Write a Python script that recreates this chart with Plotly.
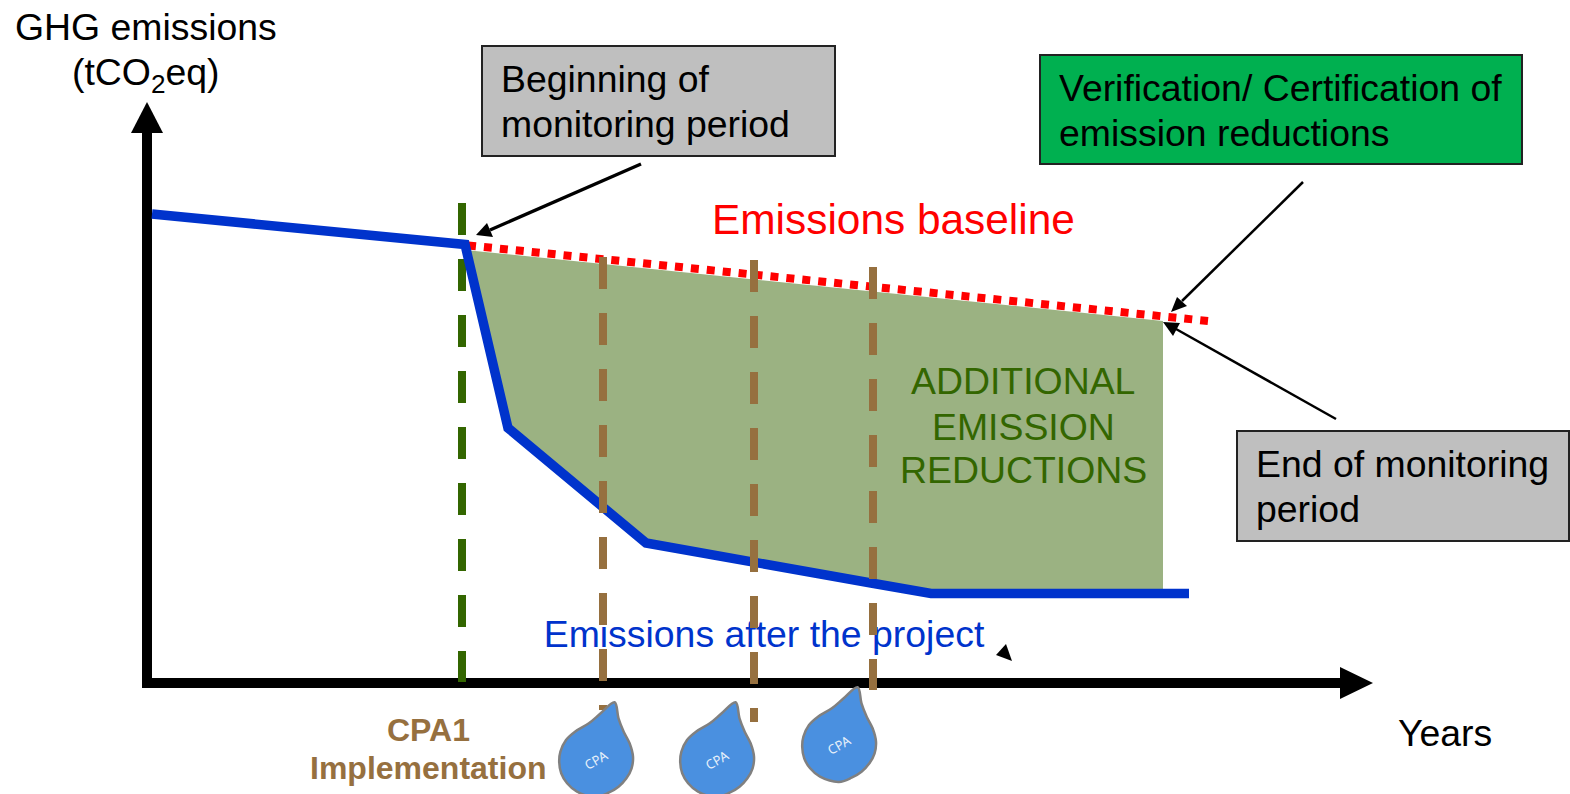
import plotly.graph_objects as go

# Chart values (axis units match the 1570x794 canvas)
project_x = [152, 465, 508, 646, 871, 931, 1189]
project_y = [214, 244.5, 428, 543, 583, 593.5, 593.5]
baseline_x = [468, 1208]
baseline_y = [245.4, 321]
area_x = [465, 1163, 1163, 931, 871, 646, 508]
area_y = [250, 321, 590, 590, 581, 541, 426]
start_x = [462, 462]
start_y = [203, 682]
cpa_x = [603, 754, 873]
cpa_top = [257, 260, 267]
cpa_bottom = [710, 722, 690]
drop_cx = [596, 717, 839]
drop_cy = [760, 760, 745]
drop_dx = [18.6, 4.7, -7.1, -21, -30, -35.6, -36.8, -34.8, -28.9, -19, 0, 12.6, 22.5, 30.4, 35.6, 37, 33.6, 27.7, 22.5, 18.6]
drop_dy = [-57.7, -46.7, -36.7, -28.3, -20, -8.3, 1.7, 13.3, 23.3, 31.7, 37, 32.7, 26.7, 18.3, 8.3, -3.3, -16.7, -28.3, -41.7, -57.7]
arrow_lines = [([641, 490], [164, 230]), ([1303, 1182], [182, 301]), ([1336, 1176], [419, 329])]
arrow_widths = [3.3, 2.5, 2.5]
arrow_heads = [([476, 487, 493], [235, 223, 237]),
               ([1171, 1177, 1187], [312, 297, 306]),
               ([1163, 1180, 1173], [322, 323, 336])]
stray_x = [996, 1006, 1012]
stray_y = [655, 644, 661]

FONT = "Liberation Sans"
BLACK = "#000000"
BROWN = "#96703f"
GREEN = "#336600"
BLUE = "#0033cc"
DASH = "32px,24px"

fig = go.Figure()


def line(x, y, color, width, dash="solid"):
    fig.add_trace(go.Scatter(x=x, y=y, mode="lines", hoverinfo="skip",
                             line=dict(color=color, width=width, dash=dash)))


def poly(x, y, color, border=None, shape="linear"):
    fig.add_trace(go.Scatter(x=x, y=y, mode="lines", fill="toself", fillcolor=color,
                             hoverinfo="skip",
                             line=dict(color=border or color, width=2.5 if border else 0, shape=shape)))


poly(area_x, area_y, "#9bb282")

# axes
line([147, 147], [688, 130], BLACK, 10)
poly([131, 147, 163], [133, 102, 133], BLACK)
line([144, 1342], [683, 683], BLACK, 10)
poly([1340, 1373, 1340], [667, 683, 699], BLACK)

line(start_x, start_y, GREEN, 8, DASH)
line(baseline_x, baseline_y, "#ff0000", 8, "8px,8px")
line(project_x, project_y, BLUE, 9.5)
poly(stray_x, stray_y, BLACK)

for (lx, ly), w, (hx, hy) in zip(arrow_lines, arrow_widths, arrow_heads):
    line(lx, ly, BLACK, w)
    poly(hx, hy, BLACK)

fig.add_trace(go.Scatter(x=[764], y=[638], mode="text", text=["Emissions after the project"],
                         textposition="middle center", hoverinfo="skip",
                         textfont=dict(family=FONT, size=37.4, color=BLUE)))

for i in range(3):
    line([cpa_x[i]] * 2, [cpa_top[i], cpa_bottom[i]], BROWN, 8, DASH)

# drops
for cx, cy in zip(drop_cx, drop_cy):
    poly([cx + d for d in drop_dx], [cy + d for d in drop_dy], "#4a90e0", "#808080", "spline")

shapes = [
    dict(type="rect", x0=482, x1=835, y0=46, y1=156, fillcolor="#bfbfbf", line=dict(color="#222222", width=2)),
    dict(type="rect", x0=1040, x1=1522, y0=55, y1=164, fillcolor="#00b050", line=dict(color="#222222", width=2)),
    dict(type="rect", x0=1237, x1=1569, y0=431, y1=541, fillcolor="#bfbfbf", line=dict(color="#222222", width=2)),
]

notes = []


def text(x, y, s, size=37.4, color=BLACK, anchor="left", bold=False, angle=0, family=FONT):
    notes.append(dict(x=x, y=y, text=f"<b>{s}</b>" if bold else s, showarrow=False,
                      xanchor=anchor, yanchor="middle", align=anchor, textangle=angle,
                      font=dict(family=family, size=size, color=color)))


text(146, 27, "GHG emissions", anchor="center")
text(146, 75, "(tCO<sub>2</sub>eq)", anchor="center")
text(499, 79, "Beginning of")
text(499, 124, "monitoring period")
text(1057, 88, "Verification/ Certification of")
text(1057, 133, "emission reductions")
text(1254, 464, "End of monitoring")
text(1254, 509, "period")
text(893, 219, "Emissions baseline", size=42.4, color="#ff0000", anchor="center")
text(1023, 381, "ADDITIONAL", color=GREEN, anchor="center")
text(1023, 427, "EMISSION", color=GREEN, anchor="center")
text(1023, 470, "REDUCTIONS", color=GREEN, anchor="center")
text(1445, 733, "Years", anchor="center")
text(428, 730, "CPA1", size=32, color=BROWN, anchor="center", bold=True)
text(428, 768, "Implementation", size=32, color=BROWN, anchor="center", bold=True)
for cx, cy in zip(drop_cx, drop_cy):
    text(cx, cy, "CPA", size=13, color="#e8f0fa", anchor="center", angle=-30, family="Noto Sans")

fig.update_layout(
    width=1570, height=794, margin=dict(l=0, r=0, t=0, b=0), showlegend=False,
    paper_bgcolor="white", plot_bgcolor="white", shapes=shapes, annotations=notes,
    xaxis=dict(range=[0, 1570], visible=False, fixedrange=True),
    yaxis=dict(range=[794, 0], visible=False, fixedrange=True),
)
fig.write_html("out.html", config=dict(displayModeBar=False),
               post_script="document.body.style.margin='0';document.documentElement.style.overflow='hidden';")
